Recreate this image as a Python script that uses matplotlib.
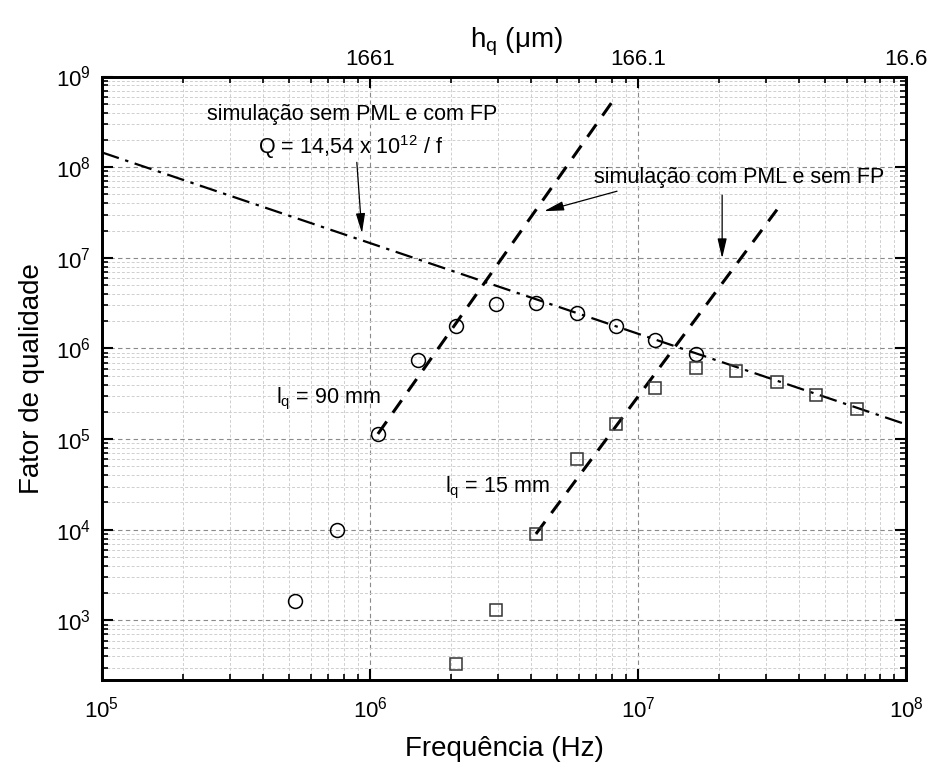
import matplotlib
matplotlib.use('Agg')
import matplotlib.pyplot as plt
from matplotlib.ticker import LogLocator, FixedLocator, FixedFormatter, NullFormatter, LogFormatterMathtext

plt.rcParams['font.family'] = 'Liberation Sans'
plt.rcParams['mathtext.fontset'] = 'custom'
plt.rcParams['mathtext.rm'] = 'Liberation Sans'
plt.rcParams['mathtext.it'] = 'Liberation Sans:italic'
plt.rcParams['mathtext.default'] = 'regular'

# l_q = 90 mm (circulos)
freq_90 = [5.24e5, 7.5e5, 1.07e6, 1.51e6, 2.1e6, 2.96e6, 4.16e6, 5.9e6, 8.3e6, 1.16e7, 1.65e7]
q_90 = [1650, 1.0e4, 1.14e5, 7.5e5, 1.75e6, 3.1e6, 3.2e6, 2.46e6, 1.75e6, 1.25e6, 8.7e5]

# l_q = 15 mm (quadrados)
freq_15 = [2.1e6, 2.96e6, 4.16e6, 5.9e6, 8.3e6, 1.16e7, 1.65e7, 2.33e7, 3.29e7, 4.63e7, 6.55e7]
q_15 = [333, 1313, 9000, 5.97e4, 1.47e5, 3.7e5, 6.1e5, 5.7e5, 4.3e5, 3.08e5, 2.17e5]

# retas tracejadas (simulacao com PML e sem FP)
fit_90_f = [1.07e6, 8.3e6]
fit_90_q = [1.14e5, 6.1e8]
fit_15_f = [4.16e6, 3.3e7]
fit_15_q = [9000, 3.4e7]

# Q = 14,54 x 10^12 / f
line_f = [1e5, 1e8]
line_q = [1.454e8, 1.454e5]

# ticks
x_ticks = [1e5, 1e6, 1e7, 1e8]
y_ticks = [1e3, 1e4, 1e5, 1e6, 1e7, 1e8, 1e9]
top_ticks = [1e6, 1e7, 1e8]
top_labels = ['1661', '166.1', '16.6']

fig = plt.figure(figsize=(9.33, 7.69), dpi=100)
ax = fig.add_axes([0.1093, 0.1157, 0.8618, 0.7848])

ax.plot(line_f, line_q, color='k', lw=1.6, linestyle=(0, (8, 3, 1.5, 3)))
ax.plot(fit_90_f, fit_90_q, color='k', lw=2.2, linestyle=(0, (5, 3.5)))
ax.plot(fit_15_f, fit_15_q, color='k', lw=2.2, linestyle=(0, (5, 3.5)))
ax.plot(freq_90, q_90, 'o', mfc='none', mec='k', ms=10, mew=1.1, zorder=5)
ax.plot(freq_15, q_15, 's', mfc='none', mec='#333333', ms=9, mew=1.1, zorder=5)

ax.set_xscale('log')
ax.set_yscale('log')
ax.set_xlim(1e5, 1e8)
ax.set_ylim(220, 1e9)

ax.xaxis.set_major_locator(FixedLocator(x_ticks))
ax.xaxis.set_minor_locator(LogLocator(base=10, subs=range(2, 10), numticks=20))
ax.yaxis.set_major_locator(FixedLocator(y_ticks))
ax.yaxis.set_minor_locator(LogLocator(base=10, subs=range(2, 10), numticks=20))
ax.xaxis.set_major_formatter(LogFormatterMathtext())
ax.yaxis.set_major_formatter(LogFormatterMathtext())
ax.xaxis.set_minor_formatter(NullFormatter())
ax.yaxis.set_minor_formatter(NullFormatter())

ax.grid(which='major', color='#8a8a8a', linestyle=(0, (4, 3)), lw=0.8)
ax.grid(which='minor', color='#cfcfcf', linestyle=(0, (3, 2)), lw=0.7)
ax.set_axisbelow(True)

ax.tick_params(which='both', direction='in', right=True, top=False, labelsize=16)
ax.tick_params(which='major', length=8, width=1.5)
ax.tick_params(which='minor', length=4.5, width=1.2)
ax.tick_params(axis='x', pad=12)
ax.tick_params(axis='y', pad=8)
for s in ax.spines.values():
    s.set_linewidth(2)

ax.set_xlabel('Frequência (Hz)', fontsize=20, labelpad=10)
ax.set_ylabel('Fator de qualidade', fontsize=20, labelpad=8)

ax2 = ax.twiny()
ax2.set_xscale('log')
ax2.set_xlim(ax.get_xlim())
ax2.xaxis.set_major_locator(FixedLocator(top_ticks))
ax2.xaxis.set_major_formatter(FixedFormatter(top_labels))
ax2.xaxis.set_minor_locator(LogLocator(base=10, subs=range(2, 10), numticks=20))
ax2.xaxis.set_minor_formatter(NullFormatter())
ax2.tick_params(which='both', direction='in', labelsize=16, pad=5)
ax2.tick_params(which='major', length=8, width=1.5)
ax2.tick_params(which='minor', length=4.5, width=1.2)
ax2.set_xlabel('h$_q$ (μm)', fontsize=20)
ax2.xaxis.set_label_coords(0.515, 1.048)
for s in ax2.spines.values():
    s.set_linewidth(2)

# textos e setas
ax.text(2.47e5, 3.31e8, 'simulação sem PML e com FP', fontsize=15.5, va='baseline')
ax.text(3.82e5, 1.39e8, 'Q = 14,54 x 10$^{12}$ / f', fontsize=15.5, va='baseline')
ax.text(6.86e6, 6.65e7, 'simulação com PML e sem FP', fontsize=15.5, va='baseline')
ax.text(4.46e5, 2.47e5, 'l$_q$ = 90 mm', fontsize=15.5, va='baseline')
ax.text(1.90e6, 2.56e4, 'l$_q$ = 15 mm', fontsize=15.5, va='baseline')

arrow = dict(arrowstyle='-|>,head_length=0.6,head_width=0.14', color='k', lw=0.9,
             mutation_scale=20, shrinkA=0, shrinkB=0)
ax.annotate('', xy=(9.33e5, 1.87e7), xytext=(8.93e5, 1.13e8), arrowprops=arrow)
ax.annotate('', xy=(4.46e6, 3.27e7), xytext=(8.35e6, 5.43e7), arrowprops=arrow)
ax.annotate('', xy=(2.06e7, 9.86e6), xytext=(2.06e7, 4.91e7), arrowprops=arrow)

fig.savefig('out.png', dpi=100)
